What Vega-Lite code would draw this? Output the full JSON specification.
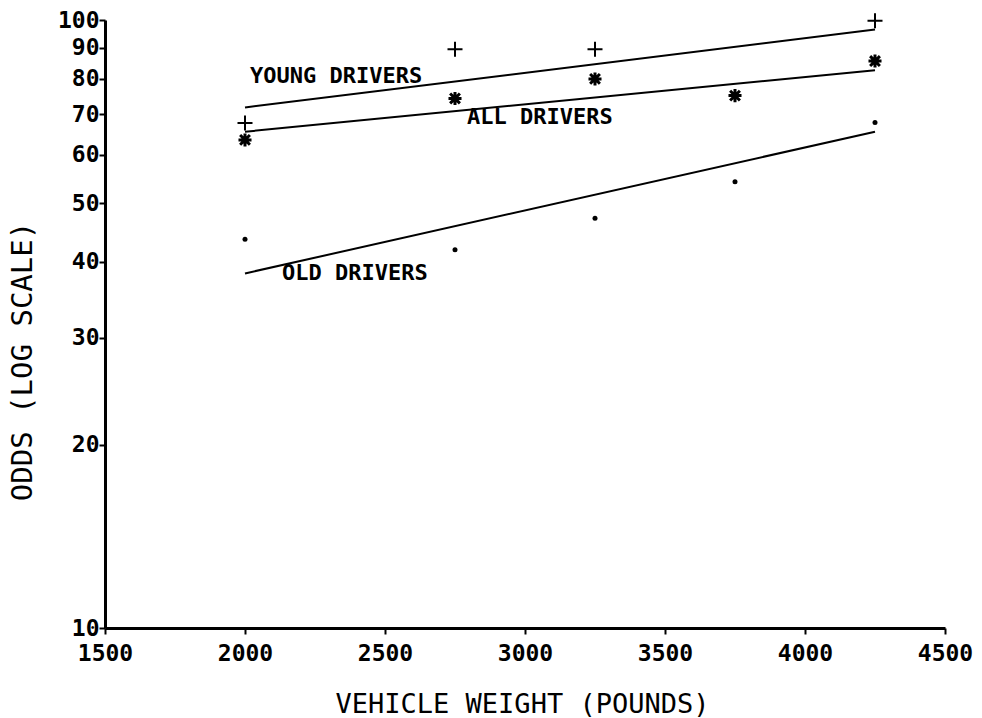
{
  "$schema": "https://vega.github.io/schema/vega-lite/v6.json",
  "autosize": "none",
  "width": 840,
  "height": 608,
  "padding": {"left": 105, "top": 20, "right": 37, "bottom": 90},
  "background": "white",
  "config": {"font": "DejaVu Sans Mono", "view": {"stroke": null}},
  "datasets": {
    "points": [
      {"weight": 2000, "odds": 67.7, "group": "young"},
      {"weight": 2750, "odds": 89.5, "group": "young"},
      {"weight": 3250, "odds": 89.5, "group": "young"},
      {"weight": 4250, "odds": 99.7, "group": "young"},
      {"weight": 2000, "odds": 63.5, "group": "all"},
      {"weight": 2750, "odds": 74.3, "group": "all"},
      {"weight": 3250, "odds": 80.0, "group": "all"},
      {"weight": 3750, "odds": 75.1, "group": "all"},
      {"weight": 4250, "odds": 85.6, "group": "all"},
      {"weight": 2000, "odds": 43.6, "group": "old"},
      {"weight": 2750, "odds": 41.9, "group": "old"},
      {"weight": 3250, "odds": 47.2, "group": "old"},
      {"weight": 3750, "odds": 54.2, "group": "old"},
      {"weight": 4250, "odds": 67.8, "group": "old"}
    ],
    "fits": [
      {"weight": 2000, "fit": 71.8, "group": "young"},
      {"weight": 4250, "fit": 96.5, "group": "young"},
      {"weight": 2000, "fit": 65.5, "group": "all"},
      {"weight": 4250, "fit": 82.7, "group": "all"},
      {"weight": 2000, "fit": 38.3, "group": "old"},
      {"weight": 4250, "fit": 65.5, "group": "old"}
    ],
    "labels": [
      {"weight": 2018, "odds": 80.9, "label": "YOUNG DRIVERS"},
      {"weight": 2793, "odds": 69.2, "label": "ALL DRIVERS"},
      {"weight": 2132, "odds": 38.4, "label": "OLD DRIVERS"}
    ]
  },
  "layer": [
    {
      "data": {"name": "fits"},
      "mark": {"type": "line", "color": "black", "strokeWidth": 2},
      "encoding": {
        "x": {"field": "weight", "type": "quantitative",
              "scale": {"domain": [1500, 4500], "nice": false, "zero": false},
              "axis": {"values": [1500, 2000, 2500, 3000, 3500, 4000, 4500],
                       "title": "VEHICLE WEIGHT (POUNDS)", "grid": false,
                       "domainColor": "black", "domainWidth": 3,
                       "tickColor": "black", "tickWidth": 2, "tickSize": 6,
                       "labelFontSize": 23, "labelFontWeight": "bold", "labelColor": "black",
                       "labelPadding": 8, "format": "d", "labelFlush": false, "labelOverlap": false,
                       "titleFontSize": 27, "titleFontWeight": "normal", "titleColor": "black",
                       "titleX": 417, "titleY": 76, "titleBaseline": "middle", "titleAlign": "center"}},
        "y": {"field": "fit", "type": "quantitative",
              "scale": {"type": "log", "domain": [10, 100], "nice": false},
              "axis": {"values": [10, 20, 30, 40, 50, 60, 70, 80, 90, 100],
                       "title": "ODDS (LOG SCALE)", "grid": false,
                       "domainColor": "black", "domainWidth": 3,
                       "tickColor": "black", "tickWidth": 2, "tickSize": 6,
                       "labelFontSize": 23, "labelFontWeight": "bold", "labelColor": "black",
                       "labelPadding": 0, "format": "d", "labelFlush": false, "labelOverlap": false,
                       "titleFontSize": 29, "titleFontWeight": "normal", "titleColor": "black",
                       "titleX": -83, "titleY": 341, "titleAngle": -90,
                       "titleBaseline": "middle", "titleAlign": "center"}},
        "detail": {"field": "group"}
      }
    },
    {
      "data": {"name": "points"},
      "transform": [{"filter": "datum.group === 'young'"}],
      "mark": {"type": "point", "shape": "M-1,0L1,0M0,-1L0,1", "filled": false,
               "stroke": "black", "strokeWidth": 2, "size": 225, "opacity": 1},
      "encoding": {
        "x": {"field": "weight", "type": "quantitative"},
        "y": {"field": "odds", "type": "quantitative"}
      }
    },
    {
      "data": {"name": "points"},
      "transform": [{"filter": "datum.group === 'all'"}],
      "mark": {"type": "point", "shape": "M-1,0L1,0M0,-1L0,1M-0.75,-0.75L0.75,0.75M-0.75,0.75L0.75,-0.75",
               "filled": false, "stroke": "black", "strokeWidth": 3, "size": 170, "opacity": 1},
      "encoding": {
        "x": {"field": "weight", "type": "quantitative"},
        "y": {"field": "odds", "type": "quantitative"}
      }
    },
    {
      "data": {"name": "points"},
      "transform": [{"filter": "datum.group === 'old'"}],
      "mark": {"type": "point", "shape": "circle", "filled": true, "color": "black", "size": 25, "opacity": 1},
      "encoding": {
        "x": {"field": "weight", "type": "quantitative"},
        "y": {"field": "odds", "type": "quantitative"}
      }
    },
    {
      "data": {"name": "labels"},
      "mark": {"type": "text", "align": "left", "baseline": "middle", "fontSize": 22,
               "fontWeight": "bold", "color": "black"},
      "encoding": {
        "x": {"field": "weight", "type": "quantitative"},
        "y": {"field": "odds", "type": "quantitative"},
        "text": {"field": "label"}
      }
    }
  ]
}
